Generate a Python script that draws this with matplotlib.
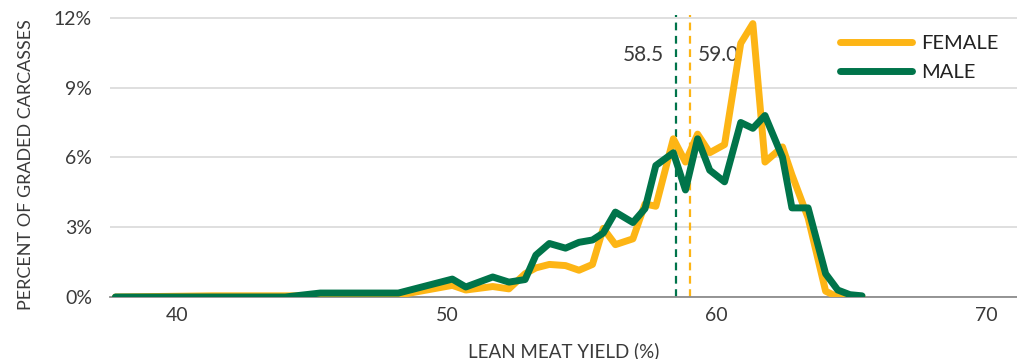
import numpy as np
import matplotlib
matplotlib.use("Agg")
from matplotlib import pyplot as plt
from matplotlib.ticker import FuncFormatter

plt.rcParams["font.family"] = ["Lato", "DejaVu Sans"]

# lean meat yield bins (%) and share of graded carcasses (%)
lmy = [37.7, 41.3, 44.0, 45.3, 48.2, 50.2, 50.7, 51.7, 52.3, 52.9,
       53.3, 53.8, 54.4, 54.9, 55.4, 55.8, 56.25, 56.9, 57.35, 57.75,
       58.4, 58.85, 59.3, 59.75, 60.3, 60.9, 61.35, 61.8, 62.45, 62.8,
       63.4, 64.05, 64.5, 64.95, 65.4]
female = [0.0, 0.05, 0.05, 0.05, 0.08, 0.5, 0.3, 0.45, 0.35, 1.0,
          1.25, 1.4, 1.35, 1.15, 1.4, 2.95, 2.25, 2.5, 4.0, 3.9,
          6.8, 5.8, 7.0, 6.2, 6.55, 10.9, 11.75, 5.8, 6.45, 5.25,
          3.4, 0.25, 0.0, 0.05, 0.02]
male = [0.0, 0.0, 0.0, 0.17, 0.17, 0.77, 0.43, 0.86, 0.64, 0.75,
        1.8, 2.3, 2.1, 2.35, 2.45, 2.75, 3.65, 3.2, 3.8, 5.65,
        6.2, 4.6, 6.8, 5.45, 4.95, 7.5, 7.25, 7.8, 6.0, 3.83,
        3.83, 1.0, 0.3, 0.1, 0.05]

avg_male, avg_female = 58.5, 59.0

ORANGE = "#FDB515"
GREEN = "#00744A"
TEXT = "#3a3a3a"

fig = plt.figure(figsize=(10.17, 3.59), dpi=100)
ax = fig.add_axes([110 / 1017, 62 / 359, 907 / 1017, 282 / 359])

# averages
ax.axvline(avg_male, color=GREEN, lw=1.6, ls=(0, (3.5, 2.5)), zorder=1)
ax.axvline(avg_female, color=ORANGE, lw=1.6, ls=(0, (3.5, 2.5)), zorder=1)
ax.text(avg_male - 0.45, 10.4, f"{avg_male:.1f}", ha="right", va="center",
        fontsize=15, color=TEXT)
ax.text(avg_female + 0.3, 10.4, f"{avg_female:.1f}", ha="left", va="center",
        fontsize=15, color=TEXT)

ax.plot(lmy, female, color=ORANGE, lw=5, solid_capstyle="round",
        solid_joinstyle="round", label="FEMALE", zorder=3)
ax.plot(lmy, male, color=GREEN, lw=5, solid_capstyle="round",
        solid_joinstyle="round", label="MALE", zorder=4)

ax.set_xlim(37.5, 71.15)
ax.set_ylim(0, 12.12)
ax.set_xticks([40, 50, 60, 70])
ax.set_yticks([0, 3, 6, 9, 12])
ax.yaxis.set_major_formatter(FuncFormatter(lambda v, _: f"{v:.0f}%"))
ax.tick_params(length=0, labelsize=14, labelcolor=TEXT, pad=7)
ax.tick_params(axis="y", pad=13)

ax.grid(axis="y", color="#d9d9d9", lw=1.2)
ax.set_axisbelow(True)
for side in ["left", "right", "top"]:
    ax.spines[side].set_visible(False)
ax.spines["bottom"].set_color("#8c8c8c")
ax.spines["bottom"].set_linewidth(1.3)

ax.set_xlabel("LEAN MEAT YIELD (%)", fontsize=13.5, color=TEXT, labelpad=13)
ax.set_ylabel("PERCENT OF GRADED CARCASSES", fontsize=13, color=TEXT)
ax.yaxis.set_label_coords(-76 / 907, 0.468)

leg = ax.legend(loc="upper right", bbox_to_anchor=(1.0, 0.995), frameon=False,
                fontsize=14.5, handlelength=3.6, handletextpad=0.45,
                labelspacing=0.62)
for t in leg.get_texts():
    t.set_color("#222222")

fig.savefig("out.png", dpi=100)
